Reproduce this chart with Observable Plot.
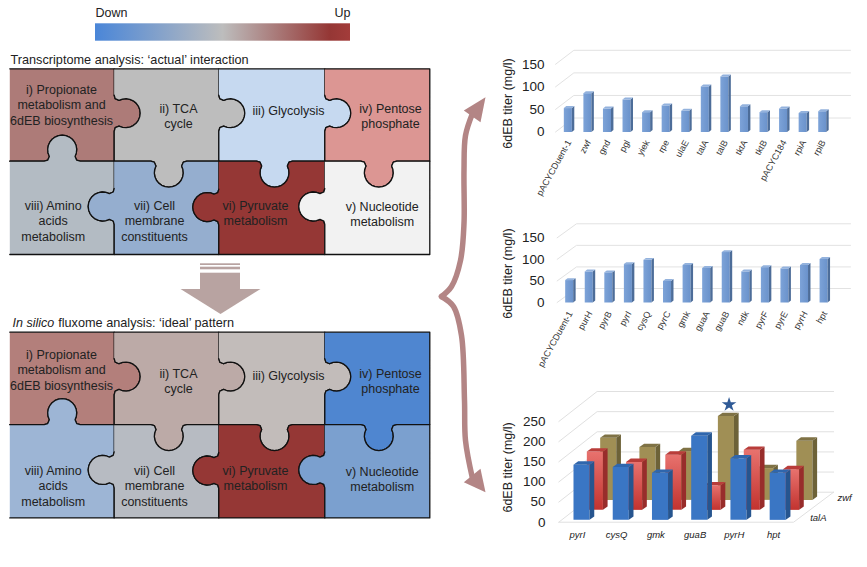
<!DOCTYPE html>
<html><head><meta charset="utf-8">
<script src="https://cdn.jsdelivr.net/npm/d3@7"></script>
<script src="https://cdn.jsdelivr.net/npm/@observablehq/plot@0.6"></script>
<style>html,body{margin:0;padding:0;background:#fff}#page{position:relative;width:867px;height:567px;overflow:hidden}#page svg{position:absolute}</style>
</head><body><div id="page"></div>
<script>
const FONT = "Liberation Sans, Arial, sans-serif";

// ---- bar chart data
const genesA = ["pACYCDuent-1","zwf","gnd","pgl","yiek","rpe","ulaE","talA","talB","tktA","tktB","pACYC184","rpiA","rpiB"];
const titersA = [53,86,52,72,44,59,47,101,123,57,44,52,42,46];
const genesB = ["pACYCDuent-1","purH","pyrB","pyrI","cysQ","pyrC","gmk","guaA","guaB","ndk","pyrF","pyrE","pyrH","hpt"];
const titersB = [52,72,70,89,99,50,87,80,117,72,82,79,87,101];
const genesC = ["pyrI","cysQ","gmk","guaB","pyrH","hpt"];
const titersTalA = [137,131,117,209,153,117];
const titersBoth = [145,119,137,61,149,101];
const titersZwf = [154,131,121,208,79,147];
const ticks150 = [0,50,100,150];
const ticks250 = [0,50,100,150,200,250];

// ---- puzzle data
const puzzleLabels = ["i) Propionate\nmetabolism and\n6dEB biosynthesis","ii) TCA\ncycle","iii) Glycolysis","iv) Pentose\nphosphate","viii) Amino\nacids\nmetabolism","vii) Cell\nmembrane\nconstituents","vi) Pyruvate\nmetabolism","v) Nucleotide\nmetabolism"];
const labelX = [61,178,288,390,52.7,154,255,381.7];
const labelY = [104,115,110,115,220,220,212.3,213];
const actualColors = ["#ad7b78","#bdbdbd","#c6d9f0","#dc9693","#b3bbc3","#95aecf","#953735","#f2f2f2"];
const idealColors  = ["#b37f7b","#bcaaa7","#c2bcba","#4f86d0","#9db5d5","#b7bbc2","#953735","#7ba0cf"];
const gridX = [9.3,113.7,218.3,324.3,429.3];
const gridY = [0,92.4,185.7];
const topY = 68.3, bottomY = 331.7;
// knob: centre along the edge, side it bulges to (+1 right/down, -1 left/up)
const vKnobs = [[{c:44.4,s:1},{c:44.4,s:1},{c:44.4,s:1}],[{c:137.7,s:-1},{c:138.3,s:-1},{c:137.7,s:-1}]];
const hKnobs = [{c:61.7,s:-1},{c:168.3,s:1},{c:274,s:1},{c:378.3,s:1}];

function knobProfile(){
  const r=14.5, cv=11.5, t0=2.05, pts=[[-18,0],[-14.5,1]];
  for(let k=0;k<=16;k++){const t=-t0+2*t0*k/16; pts.push([r*Math.sin(t),cv+r*Math.cos(t)]);}
  pts.push([14.5,1],[18,0]);
  return pts;
}
const profile = knobProfile();
function edge(a,b,knob,oy){
  const horiz = a[1]===b[1];
  const dir = horiz ? Math.sign(b[0]-a[0]) : Math.sign(b[1]-a[1]);
  const out=[a];
  if(knob){
    const base = horiz ? knob.c : knob.c+oy;
    const seq = profile.map(([u,v])=>[base+dir*u*1, knob.s*v]);
    seq.forEach(([p,v])=> out.push(horiz ? [p,a[1]+v] : [a[0]+v,p]));
  }
  return out;
}
function piece(r,c,oy){
  const x0=gridX[c],x1=gridX[c+1],y0=gridY[r]+oy,y1=gridY[r+1]+oy;
  return [
    ...edge([x0,y0],[x1,y0], r===1?hKnobs[c]:null, oy),
    ...edge([x1,y0],[x1,y1], c<3?vKnobs[r][c]:null, oy),
    ...edge([x1,y1],[x0,y1], r===0?hKnobs[c]:null, oy),
    ...edge([x0,y1],[x0,y0], c>0?vKnobs[r][c-1]:null, oy)
  ];
}
function puzzle(colors,oy,tag){
  const rows=[];
  [[0,0],[0,1],[0,2],[0,3],[1,0],[1,1],[1,2],[1,3]].forEach(([r,c],i)=>{
    piece(r,c,oy).forEach(([x,y])=>rows.push({id:tag+i,x,y,fill:colors[i]}));
  });
  return rows;
}
function defs(html){
  return ()=>{const g=document.createElementNS("http://www.w3.org/2000/svg","defs");g.innerHTML=html;return g;};
}
const shaftStripes = [{y1:263.3,y2:265},{y1:266.7,y2:269.3},{y1:272.7,y2:289}];
const arrowHead = [[180,288.5],[260,288.5],[220,313.5]].map(([x,y])=>({x,y}));
const braceTop = [[472,113],[465,135],[463.5,170],[463.5,223],[460,260],[451,286],[441,296]].map(([x,y])=>({x,y,id:"t"}));
const braceBottom = [[441,296],[453,306],[461,335],[464,400],[465,440],[472,478]].map(([x,y])=>({x,y,id:"b"}));
const braceHeads = [[463.3,110,"a"],[485,96.7,"a"],[480,121.7,"a"],[463.3,481.7,"b"],[480,468.3,"b"],[485,491.7,"b"]].map(([x,y,id])=>({x,y,id}));

const txt = {fontFamily:FONT, fill:"#222"};
const diagram = Plot.plot({
  width:867,height:567,margin:0,
  x:{domain:[0,867],range:[0,867],axis:null},
  y:{domain:[0,567],range:[0,567],axis:null},
  color:{type:"identity"},
  style:{background:"transparent",fontFamily:FONT},
  marks:[
    defs(`<linearGradient id="legendGrad"><stop offset="0" stop-color="#4a86d8"/><stop offset=".5" stop-color="#bdbdbd"/><stop offset=".92" stop-color="#953735"/><stop offset="1" stop-color="#a33c3a"/></linearGradient>`),
    Plot.rect([{}],{x1:95,x2:350,y1:23.3,y2:40.7,fill:"url(#legendGrad)"}),
    Plot.text(["Down"],{x:95,y:12.7,text:d=>d,textAnchor:"start",fontSize:12.5,...txt}),
    Plot.text(["Up"],{x:350,y:12.7,text:d=>d,textAnchor:"end",fontSize:12.5,...txt}),
    Plot.text(["Transcriptome analysis: ‘actual’ interaction"],{x:10,y:59,text:d=>d,textAnchor:"start",fontSize:12.7,...txt}),
    Plot.text(["In silico"],{x:12,y:322.7,text:d=>d,textAnchor:"start",fontSize:12.5,fontStyle:"italic",...txt}),
    Plot.text(["fluxome analysis: ‘ideal’ pattern"],{x:57.7,y:322.7,text:d=>d,textAnchor:"start",fontSize:12.7,...txt}),
    Plot.line(puzzle(actualColors,topY,"a"),{x:"x",y:"y",z:"id",fill:"fill",stroke:"#111",strokeWidth:1.3,strokeLinejoin:"round"}),
    Plot.line(puzzle(idealColors,bottomY,"b"),{x:"x",y:"y",z:"id",fill:"fill",stroke:"#111",strokeWidth:1.3,strokeLinejoin:"round"}),
    Plot.text(puzzleLabels,{x:(d,i)=>labelX[i],y:(d,i)=>labelY[i],text:d=>d,fontSize:12.5,lineHeight:1.22,...txt}),
    Plot.text(puzzleLabels,{x:(d,i)=>labelX[i],y:(d,i)=>labelY[i]+265,text:d=>d,fontSize:12.5,lineHeight:1.22,...txt}),
    Plot.rect(shaftStripes,{x1:200,x2:240,y1:"y1",y2:"y2",fill:"#b8a3a1"}),
    Plot.line(arrowHead,{x:"x",y:"y",fill:"#b8a3a1",stroke:"none"}),
    Plot.line([...braceTop,...braceBottom],{x:"x",y:"y",z:"id",curve:"catmull-rom",stroke:"#b38585",strokeWidth:5.5,strokeLinecap:"round"}),
    Plot.line(braceHeads,{x:"x",y:"y",z:"id",fill:"#b38585",stroke:"none"})
  ]
});
diagram.style.left="0";diagram.style.top="0";

function box(slot,base,val,w,sd,tp,cols,id){
  const top=base+val, b=base;
  return [
    ...[[slot,b],[slot+w,b],[slot+w,top],[slot,top]].map(([x,y])=>({x,y,id:id+"f",fill:cols[0]})),
    ...[[slot+w,b],[slot+w+sd,b+tp],[slot+w+sd,top+tp],[slot+w,top]].map(([x,y])=>({x,y,id:id+"s",fill:cols[1]})),
    ...[[slot,top],[slot+w,top],[slot+w+sd,top+tp],[slot+sd,top+tp]].map(([x,y])=>({x,y,id:id+"t",fill:cols[2]}))
  ];
}
function flatChart(genes,vals,o){
  const cols=["url(#flatFront)","#4d6d99","#93b2dd"];
  const faces=vals.flatMap((v,i)=>box(i,0,v,0.41,0.125,4.4,cols,"b"+i));
  const grid=ticks150.flatMap(t=>[[o.gx,t],[o.gx+o.gdx,t+o.gdy],[o.gx1,t+o.gdy]].map(([x,y])=>({x,y,t})));
  const p=Plot.plot({
    width:370,height:o.h,marginLeft:56,marginRight:10,marginTop:0,marginBottom:0,
    x:{domain:o.xd,axis:null},
    y:{domain:[0,150],range:o.yr,axis:null},
    color:{type:"identity"},
    style:{background:"transparent",fontFamily:FONT},
    marks:[
      defs(`<linearGradient id="flatFront" gradientUnits="objectBoundingBox" x1="0" x2="1" y1="0" y2="0"><stop offset="0" stop-color="#7da3d8"/><stop offset="1" stop-color="#6a92cb"/></linearGradient>`),
      Plot.line(grid,{x:"x",y:"y",z:"t",stroke:"#e2e2e2",strokeWidth:1}),
      Plot.line(faces,{x:"x",y:"y",z:"id",fill:"fill",stroke:"none"}),
      Plot.axisY({ticks:ticks150,tickSize:0,tickPadding:2,fontSize:13.5,label:null,fill:"#222"}),
      Plot.text(["6dEB titer (mg/l)"],{frameAnchor:"left",textAnchor:"middle",dx:-39,y:o.ty,text:d=>d,rotate:-90,fontSize:12.5,...txt}),
      Plot.text(genes,{x:(d,i)=>i+0.27,y:o.ly,text:d=>d,rotate:-61,textAnchor:"end",fontSize:9,...txt,fill:"#333"})
    ]
  });
  p.style.left="490px";p.style.top=o.top+"px";
  return p;
}
const chartA=flatChart(genesA,titersA,{h:170,top:40,xd:[-0.885,14.65],yr:[91.5,23.8],gx:-0.424,gdx:0.937,gdy:31,gx1:14.65,ty:63,ly:-19.5});
const chartB=flatChart(genesB,titersB,{h:165,top:215,xd:[-0.954,14.58],yr:[87,22.3],gx:-0.41,gdx:0.988,gdy:32.5,gx1:14.58,ty:67,ly:-22});

// ---- 3D chart
const rowColors=[
  ["#3a76c4","#26558f","#2f66ad"],
  ["url(#redFront)","#982d2b","#b93d3a"],
  ["#a08f55","#6d6238","#7f7245"]];
const rowVals=[titersTalA,titersBoth,titersZwf];
const rowShiftX=0.34,rowShiftY=24.8,baseY=5.8;
const faces3=[2,1,0].flatMap(r=>rowVals[r].flatMap((v,i)=>box(i+r*rowShiftX,baseY+r*rowShiftY,v,0.41,0.119,8.3,rowColors[r],"r"+r+"b"+i)));
const gx0=-0.374,gdx=0.976,gdy=74.5,gx1=6.63;
const walls=ticks250.flatMap(t=>[[gx0,t],[gx0+gdx,t+gdy],[gx1,t+gdy]].map(([x,y])=>({x,y,t})));
const floorEdge=[[gx0,0],[5.61,0],[gx1,gdy]].map(([x,y])=>({x,y}));
const chartC=Plot.plot({
  width:370,height:170,marginLeft:58,marginRight:10,marginTop:0,marginBottom:0,
  x:{domain:[-0.637,7.06],axis:null},
  y:{domain:[0,250],range:[136.7,36],axis:null},
  color:{type:"identity"},
  style:{background:"transparent",fontFamily:FONT},
  marks:[
    defs(`<linearGradient id="redFront" x1="0" x2="0" y1="0" y2="1"><stop offset="0" stop-color="#e8726e"/><stop offset="1" stop-color="#c2332f"/></linearGradient>`),
    Plot.line(walls,{x:"x",y:"y",z:"t",stroke:"#e0e0e0",strokeWidth:1}),
    Plot.line(floorEdge,{x:"x",y:"y",stroke:"#e0e0e0",strokeWidth:1}),
    Plot.line(faces3,{x:"x",y:"y",z:"id",fill:"fill",stroke:"none"}),
    Plot.axisY({ticks:ticks250,tickSize:0,tickPadding:3,fontSize:13.5,label:null,fill:"#222"}),
    Plot.text(["6dEB titer (mg/l)"],{frameAnchor:"left",textAnchor:"middle",dx:-41,y:136,text:d=>d,rotate:-90,fontSize:12.5,...txt}),
    Plot.text(genesC,{x:(d,i)=>i+0.1,y:-31,text:d=>d,fontSize:9.5,fontStyle:"italic",...txt}),
    Plot.text(["zwf"],{x:6.91,y:59,text:d=>d,fontSize:9.5,fontStyle:"italic",...txt}),
    Plot.text(["talA"],{x:6.24,y:10.5,text:d=>d,fontSize:9.5,fontStyle:"italic",...txt}),
    Plot.dot([{x:3.965,y:292}],{x:"x",y:"y",symbol:"star",r:4.6,fill:"#2f5a96",stroke:"none"})
  ]
});
chartC.style.left="490px";chartC.style.top="385px";

const page=document.getElementById("page");
[diagram,chartA,chartB,chartC].forEach(n=>page.appendChild(n));
</script>
</body></html>
